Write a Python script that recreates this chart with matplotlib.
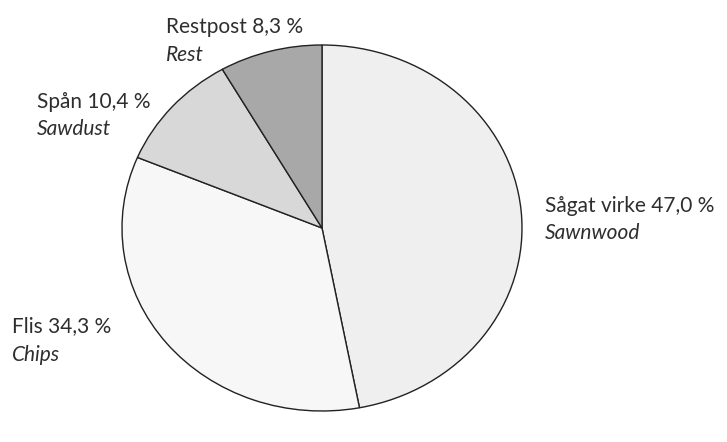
import matplotlib.pyplot as plt

# Shares of the sawmill output
names_sv = ['Sågat virke', 'Flis', 'Spån', 'Restpost']
names_en = ['Sawnwood', 'Chips', 'Sawdust', 'Rest']
shares = [47.0, 34.3, 10.4, 8.3]
colors = ['#efefef', '#f7f7f7', '#d8d8d8', '#a8a8a8']

W, H = 727, 442
fig = plt.figure(figsize=(W / 100, H / 100), dpi=100)

# pie box in pixel coords: left, top, right, bottom
left, top, right, bottom = 122, 45, 522, 411
ax = fig.add_axes([left / W, 1 - bottom / H, (right - left) / W, (bottom - top) / H])
ax.pie(shares, colors=colors, startangle=90, counterclock=False,
       wedgeprops=dict(edgecolor='#222222', linewidth=1.0))
ax.set_aspect('auto')
ax.set_xlim(-1, 1)
ax.set_ylim(-1, 1)
ax.axis('off')

# label anchor (x, baseline of first line, baseline of second line) in pixels
label_pos = [(545, 212, 239), (12, 332, 361), (37, 108, 135), (166, 33, 61)]
font = 'Lato'
for sv, en, val, (x, y1, y2) in zip(names_sv, names_en, shares, label_pos):
    txt = f'{sv} {val:.1f} %'.replace('.', ',')
    fig.text(x / W, 1 - y1 / H, txt, fontsize=15, family=font,
             color='#2e2e2e', va='baseline', ha='left')
    fig.text(x / W, 1 - y2 / H, en, fontsize=15, family=font,
             style='italic', color='#2e2e2e', va='baseline', ha='left')

fig.savefig('out.png', dpi=100)
